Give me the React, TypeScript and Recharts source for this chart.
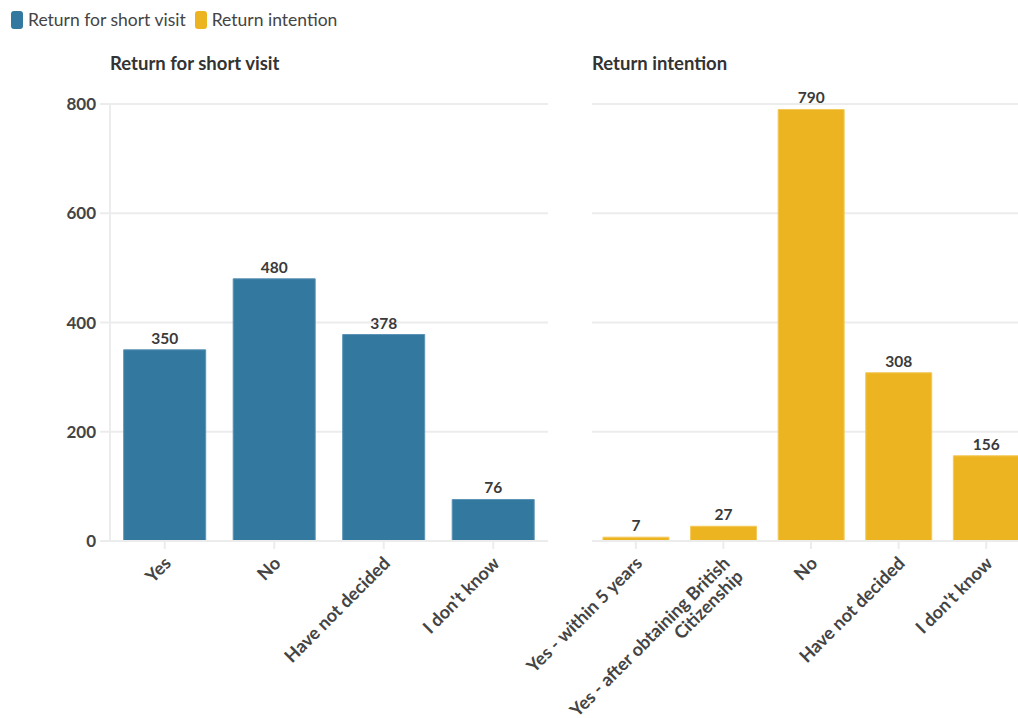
import React from "react";
import { BarChart, Bar, XAxis, YAxis, CartesianGrid, LabelList } from "recharts";

const visitCategories = ["Yes", "No", "Have not decided", "I don't know"];
const visitValues = [350, 480, 378, 76];
const intentionCategories = [
  "Yes - within 5 years",
  "Yes - after obtaining British\nCitizenship",
  "No",
  "Have not decided",
  "I don't know",
];
const intentionValues = [7, 27, 790, 308, 156];
const yTicks = [0, 200, 400, 600, 800];

const BLUE = "#33789f";
const YELLOW = "#edb421";
const TEXT = "#444444";
const GRID = "#ececec";
const FONT = "Lato, 'Noto Sans', sans-serif";

const visitData = visitCategories.map((c, i) => ({ name: c, value: visitValues[i] }));
const intentionData = intentionCategories.map((c, i) => ({ name: c, value: intentionValues[i] }));

const RotTick = (props: any) => {
  const { x, y, payload } = props;
  const lines = String(payload.value).split("\n");
  return (
    <g transform={`translate(${x + 3},${y + 9}) rotate(-45)`}>
      {lines.map((l: string, i: number) => (
        <text
          key={i}
          x={0}
          y={0}
          dy={`${0.35 + i * 1.05}em`}
          textAnchor="end"
          fontFamily={FONT}
          fontWeight={700}
          fontSize={18}
          fill={TEXT}
        >
          {l}
        </text>
      ))}
    </g>
  );
};

const valueLabelStyle = { fontFamily: FONT, fontWeight: 700, fontSize: 15.5, fill: "#3a3a3a" };

export default function App() {
  return (
    <div
      style={{
        position: "absolute",
        left: 0,
        top: 0,
        width: 1018,
        height: 718,
        overflow: "hidden",
        background: "#fff",
        fontFamily: FONT,
      }}
    >
      {/* Legend */}
      <div style={{ position: "absolute", left: 11, top: 9, display: "flex", alignItems: "center", fontSize: 17.5, color: TEXT }}>
        <span style={{ width: 12, height: 18, background: BLUE, borderRadius: 3, display: "inline-block", marginRight: 5 }} />
        <span style={{ marginRight: 9 }}>Return for short visit</span>
        <span style={{ width: 12, height: 18, background: YELLOW, borderRadius: 3, display: "inline-block", marginRight: 5 }} />
        <span>Return intention</span>
      </div>
      {/* Titles */}
      <div style={{ position: "absolute", left: 110, top: 52, fontSize: 18.5, fontWeight: 700, color: "#333" }}>
        Return for short visit
      </div>
      <div style={{ position: "absolute", left: 592, top: 52, fontSize: 18.5, fontWeight: 700, color: "#333" }}>
        Return intention
      </div>

      {/* Left chart */}
      <div style={{ position: "absolute", left: 0, top: 0 }}>
        <BarChart
          width={560}
          height={718}
          data={visitData}
          margin={{ top: 104, right: 12, left: 0, bottom: 27 }}
          barCategoryGap="12.5%"
        >
          <CartesianGrid vertical={false} stroke={GRID} strokeWidth={2} />
          <XAxis
            dataKey="name"
            interval={0}
            height={150}
            tick={<RotTick />}
            tickLine={{ stroke: GRID, strokeWidth: 2 }}
            tickSize={8}
            axisLine={{ stroke: GRID, strokeWidth: 2 }}
          />
          <YAxis
            width={110}
            domain={[0, 800]}
            ticks={yTicks}
            tick={{ fontFamily: FONT, fontWeight: 700, fontSize: 17, fill: TEXT }}
            tickLine={{ stroke: GRID, strokeWidth: 2 }}
            tickSize={10}
            tickMargin={4}
            axisLine={{ stroke: GRID, strokeWidth: 2 }}
          />
          <Bar dataKey="value" fill={BLUE} stroke="#5d93b6" strokeWidth={1} isAnimationActive={false}>
            <LabelList dataKey="value" position="top" offset={6} style={valueLabelStyle} />
          </Bar>
        </BarChart>
      </div>

      {/* Right chart */}
      <div style={{ position: "absolute", left: 440, top: 0 }}>
        <BarChart
          width={602}
          height={718}
          data={intentionData}
          margin={{ top: 104, right: 12, left: 152, bottom: 27 }}
          barCategoryGap="12.5%"
        >
          <CartesianGrid vertical={false} stroke={GRID} strokeWidth={2} />
          <XAxis
            dataKey="name"
            interval={0}
            height={150}
            tick={<RotTick />}
            tickLine={{ stroke: GRID, strokeWidth: 2 }}
            tickSize={8}
            axisLine={{ stroke: GRID, strokeWidth: 2 }}
          />
          <YAxis hide width={0} domain={[0, 800]} ticks={yTicks} />
          <Bar dataKey="value" fill={YELLOW} stroke="#f3c95a" strokeWidth={1} isAnimationActive={false}>
            <LabelList dataKey="value" position="top" offset={6} style={valueLabelStyle} />
          </Bar>
        </BarChart>
      </div>
    </div>
  );
}
